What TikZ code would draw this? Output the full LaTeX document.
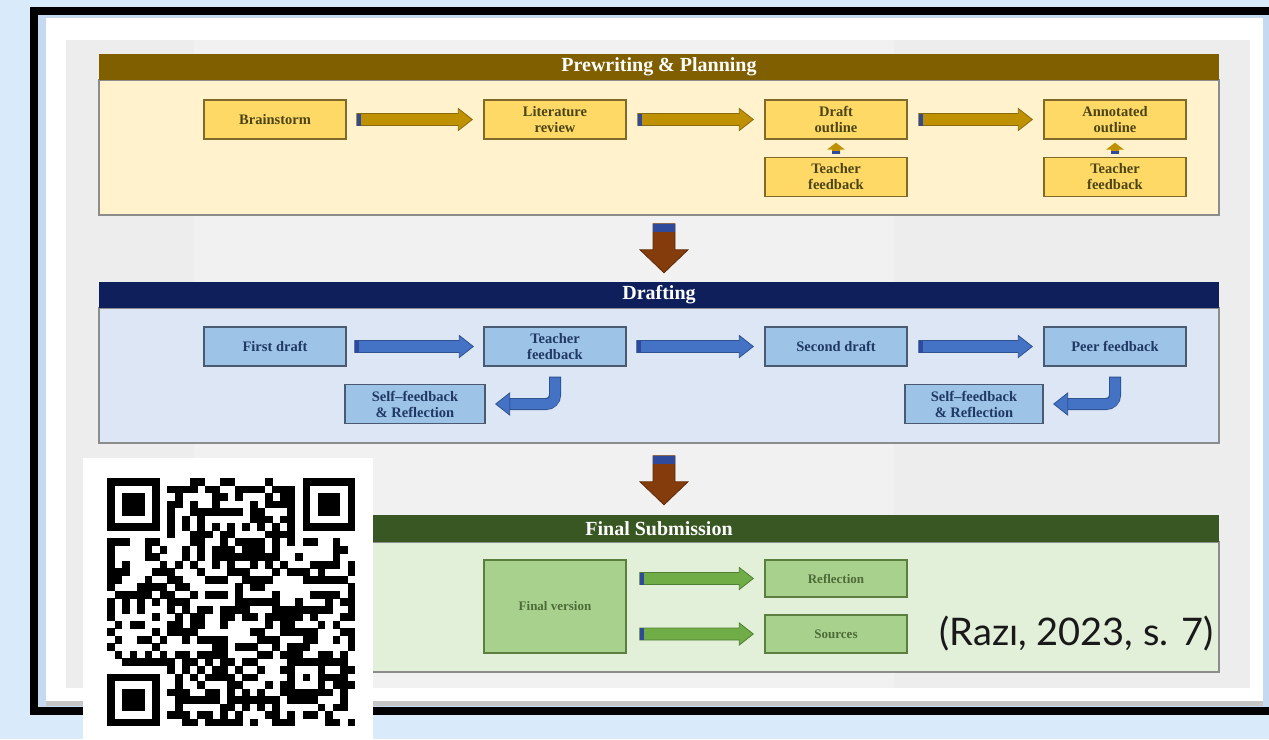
\documentclass[tikz,border=0pt]{standalone}
\usepackage{fontspec}
\setmainfont{Liberation Serif}
\newfontfamily\latofont{Lato}
\usetikzlibrary{calc}

\definecolor{pagebg}{HTML}{D9EAFB}
\definecolor{edgeblue}{HTML}{C5DAF0}
\definecolor{slidegrey}{HTML}{EDEDED}
\definecolor{slidelight}{HTML}{F1F1F1}
\definecolor{secborder}{HTML}{8C8C8C}
\definecolor{cHdrA}{HTML}{7F5F00}
\definecolor{cBodyA}{HTML}{FFF2CC}
\definecolor{cBoxA}{HTML}{FFD966}
\definecolor{cLineA}{HTML}{7F6A2A}
\definecolor{cTextA}{HTML}{4A4416}
\definecolor{cArrA}{HTML}{BF9000}
\definecolor{cArrAline}{HTML}{8A6A10}
\definecolor{cHdrB}{HTML}{0E1F5B}
\definecolor{cBodyB}{HTML}{DDE6F4}
\definecolor{cBoxB}{HTML}{9DC3E6}
\definecolor{cLineB}{HTML}{4A5A70}
\definecolor{cTextB}{HTML}{1F3864}
\definecolor{cArrB}{HTML}{4472C4}
\definecolor{cArrBline}{HTML}{2F528F}
\definecolor{cHdrC}{HTML}{385723}
\definecolor{cBodyC}{HTML}{E2F0D9}
\definecolor{cBoxC}{HTML}{A9D18E}
\definecolor{cLineC}{HTML}{5B7F3F}
\definecolor{cTextC}{HTML}{4D6B38}
\definecolor{cArrC}{HTML}{70AD47}
\definecolor{cArrCline}{HTML}{507E32}
\definecolor{tailnavy}{HTML}{2F4A9A}
\definecolor{cDown}{HTML}{843C0C}
\definecolor{cDownline}{HTML}{5E2A08}

% horizontal block arrow: fill, outline, tail, from, to
\newcommand\harrow[5]{%
  \filldraw[fill=#1, draw=#2, line width=0.8pt] let \p1=#4, \p2=#5 in
    (\x1,\y1+6pt) -- (\x2-14pt,\y1+6pt) -- (\x2-14pt,\y1+11pt) -- (\x2,\y1)
    -- (\x2-14pt,\y1-11pt) -- (\x2-14pt,\y1-6pt) -- (\x1,\y1-6pt) -- cycle;
  \fill[#3] let \p1=#4 in (\x1,\y1-6pt) rectangle (\x1+4pt,\y1+6pt);
}
% big downward block arrow: fill, outline, tail, from, to, shaft half, head half
\newcommand\darrow[7]{%
  \filldraw[fill=#1, draw=#2, line width=0.8pt] let \p1=#4, \p2=#5 in
    (\x1-#6,\y1) -- (\x1-#6,\y2+23pt) -- (\x1-#7,\y2+23pt) -- (\x1,\y2)
    -- (\x1+#7,\y2+23pt) -- (\x1+#6,\y2+23pt) -- (\x1+#6,\y1) -- cycle;
  \fill[#3] let \p1=#4 in (\x1-#6,\y1) rectangle (\x1+#6,\y1-8pt);
}
% small upward block arrow: fill, tail, from, to
\newcommand\uarrow[4]{%
  \fill[#1] let \p1=#3, \p2=#4 in
    (\x1-4pt,\y1) -- (\x1-4pt,\y2-7pt) -- (\x1-9pt,\y2-7pt) -- (\x1,\y2)
    -- (\x1+9pt,\y2-7pt) -- (\x1+4pt,\y2-7pt) -- (\x1+4pt,\y1) -- cycle;
  \fill[#2] let \p1=#3 in (\x1-4pt,\y1) rectangle (\x1+4pt,\y1+3pt);
}
% bent arrow: fill, outline, from node, to node
\newcommand\bentarrow[4]{%
  \draw[#2, line width=12pt, rounded corners=9pt] ($(#3.south)+(0,10)$) |- ($(#4.east)+(22,0)$);
  \draw[#1, line width=10pt, rounded corners=8pt] ($(#3.south)+(0,11)$) |- ($(#4.east)+(23,0)$);
  \filldraw[fill=#1, draw=#2, line width=0.8pt] ($(#4.east)+(10,0)$) -- ($(#4.east)+(24,-11)$) -- ($(#4.east)+(24,11)$) -- cycle;
}

\begin{document}
\begin{tikzpicture}[x=1pt,y=-1pt,
  box/.style={draw, line width=1.4pt, minimum width=142pt, minimum height=39pt,
    inner sep=1pt, align=center, font=\fontsize{14.5}{16}\selectfont\bfseries},
  boxA/.style={box, fill=cBoxA, draw=cLineA, text=cTextA},
  boxB/.style={box, fill=cBoxB, draw=cLineB, text=cTextB},
  boxC/.style={box, fill=cBoxC, draw=cLineC, text=cTextC, font=\fontsize{13}{15}\selectfont\bfseries},
  hdr/.style={minimum width=1120pt, minimum height=26pt, inner sep=0pt, text=white,
    font=\fontsize{20}{22}\selectfont\bfseries},
  secbody/.style={draw=secborder, line width=1.5pt, minimum width=1120pt, inner sep=0pt},
  qrmod/.style={fill=black}
]
\useasboundingbox (0,0) rectangle (1269,739);
\fill[pagebg] (0,0) rectangle (1269,739);
% frame and slide panel
\fill[black] (30,7) rectangle (1290,715);
\fill[edgeblue] (38,15) rectangle (1269,707);
\fill[white] (46,18) rectangle (1263,701);
\fill[gray!45] (46,701) rectangle (1263,706);
\fill[slidegrey] (66,40) rectangle (1250,688);
\fill[slidelight] (194,40) rectangle (894,688);

% sections
\node[secbody, fill=cBodyA, minimum height=135pt] (b1) at (659,147.5) {};
\node[hdr, fill=cHdrA] (h1) at (659,67) {Prewriting \& Planning};
\node[secbody, fill=cBodyB, minimum height=135pt] (b2) at (659,375.5) {};
\node[hdr, fill=cHdrB] (h2) at (659,295) {Drafting};
\node[secbody, fill=cBodyC, minimum height=130pt] (b3) at (659,607) {};
\node[hdr, fill=cHdrC, minimum height=27pt] (h3) at (659,528.5) {Final Submission};

% prewriting
\node[boxA] (brain) at (275,119.5) {Brainstorm};
\node[boxA] (lit) at (555,119.5) {Literature\\review};
\node[boxA] (draft) at (836,119.5) {Draft\\outline};
\node[boxA] (annot) at (1115,119.5) {Annotated\\outline};
\node[boxA] (tf1) at (836,177) {Teacher\\feedback};
\node[boxA] (tf2) at (1115,177) {Teacher\\feedback};
\harrow{cArrA}{cArrAline}{tailnavy}{($(brain.east)+(10,0)$)}{($(lit.west)+(-11,0)$)}
\harrow{cArrA}{cArrAline}{tailnavy}{($(lit.east)+(11,0)$)}{($(draft.west)+(-11,0)$)}
\harrow{cArrA}{cArrAline}{tailnavy}{($(draft.east)+(11,0)$)}{($(annot.west)+(-11,0)$)}
\uarrow{cArrA}{tailnavy}{($(tf1.north)+(0,-3)$)}{($(draft.south)+(0,3)$)}
\uarrow{cArrA}{tailnavy}{($(tf2.north)+(0,-3)$)}{($(annot.south)+(0,3)$)}

% drafting
\node[boxB] (first) at (275,346.5) {First draft};
\node[boxB] (tfb) at (555,346.5) {Teacher\\feedback};
\node[boxB] (second) at (836,346.5) {Second draft};
\node[boxB] (peer) at (1115,346.5) {Peer feedback};
\node[boxB, minimum width=140pt] (self1) at (415,404) {Self–feedback\\\& Reflection};
\node[boxB, minimum width=138pt] (self2) at (974,404) {Self–feedback\\\& Reflection};
\harrow{cArrB}{cArrBline}{tailnavy}{($(first.east)+(8,0)$)}{($(tfb.west)+(-10,0)$)}
\harrow{cArrB}{cArrBline}{tailnavy}{($(tfb.east)+(10,0)$)}{($(second.west)+(-11,0)$)}
\harrow{cArrB}{cArrBline}{tailnavy}{($(second.east)+(11,0)$)}{($(peer.west)+(-11,0)$)}
\bentarrow{cArrB}{cArrBline}{tfb}{self1}
\bentarrow{cArrB}{cArrBline}{peer}{self2}

% final submission
\node[boxC, minimum height=93pt] (final) at (555,606.5) {Final version};
\node[boxC, minimum height=37pt] (refl) at (836,578.5) {Reflection};
\node[boxC, minimum height=38pt] (src) at (836,634) {Sources};
\harrow{cArrC}{cArrCline}{tailnavy}{($(final.east |- refl.west)+(13,0)$)}{($(refl.west)+(-11,0)$)}
\harrow{cArrC}{cArrCline}{tailnavy}{($(final.east |- src.west)+(13,0)$)}{($(src.west)+(-11,0)$)}

% down arrows between sections
\darrow{cDown}{cDownline}{tailnavy}{($(b1.south)+(5,8)$)}{($(h2.north)+(5,-9)$)}{11pt}{24pt}
\darrow{cDown}{cDownline}{tailnavy}{($(b2.south)+(5,12)$)}{($(h3.north)+(5,-10)$)}{11pt}{24pt}

% citation
\node[font=\latofont\fontsize{38}{40}\selectfont, text=black!90, anchor=base east, inner sep=0pt]
  (cite) at (1214,645) {(Razı, 2023, s. 7)};

% QR code
\fill[white] (83,458) rectangle (373,745);
\begin{scope}[shift={(107,478)}]
  \def\m{7.52}
  \foreach \fx/\fy in {0/0,26/0,0/26}{
    \fill[black] (\fx*\m,\fy*\m) rectangle ++(7*\m,7*\m);
    \fill[white] (\fx*\m+\m,\fy*\m+\m) rectangle ++(5*\m,5*\m);
    \fill[black] (\fx*\m+2*\m,\fy*\m+2*\m) rectangle ++(3*\m,3*\m);
  }
  \fill[black] (24*\m,24*\m) rectangle ++(5*\m,5*\m);
  \fill[white] (25*\m,25*\m) rectangle ++(3*\m,3*\m);
  \fill[black] (26*\m,26*\m) rectangle ++(\m,\m);
  \foreach \k in {8,10,...,24}{
    \fill[black] (\k*\m,6*\m) rectangle ++(\m,\m);
    \fill[black] (6*\m,\k*\m) rectangle ++(\m,\m);
  }
  \pgfmathsetseed{4242}
  \foreach \i in {0,...,32}{
    \foreach \j in {0,...,32}{
      \pgfmathtruncatemacro\qres{((\i<8 && \j<8) || (\i>24 && \j<8) || (\i<8 && \j>24) || (\i>23 && \i<29 && \j>23 && \j<29) || \i==6 || \j==6) ? 0 : (rnd<0.5 ? 1 : 0)}
      \ifnum\qres=1 \fill[qrmod] (\i*\m,\j*\m) rectangle ++(\m+0.3,\m+0.3);\fi
    }
  }
\end{scope}
\end{tikzpicture}
\end{document}
